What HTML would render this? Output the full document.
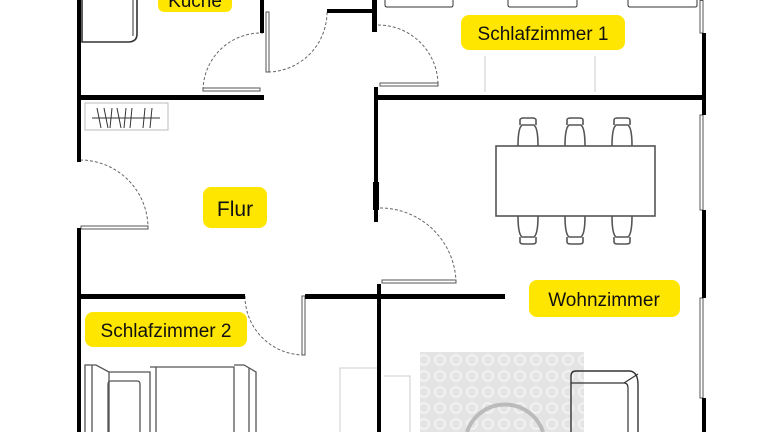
<!DOCTYPE html>
<html><head><meta charset="utf-8"><style>
html,body{margin:0;padding:0;background:#fff;width:768px;height:432px;overflow:hidden;}
svg{display:block;overflow:hidden;}
text{font-family:"Liberation Sans",sans-serif;fill:#111;}
</style></head><body>
<svg width="768" height="432" viewBox="0 0 768 432" xmlns="http://www.w3.org/2000/svg">
<defs>
<pattern id="rug" width="16" height="16" patternUnits="userSpaceOnUse">
<rect width="16" height="16" fill="#e4e4e4"/>
<circle cx="8" cy="8" r="5" fill="none" stroke="#f4f4f4" stroke-width="1.6"/>
</pattern>
</defs>
<g fill="none" stroke="#333" stroke-width="1.6">
<path d="M82 0 V42 H128 Q137 42 137 34 V0"/>
<path d="M133 0 V36" stroke-width="1"/>
<rect x="85" y="103" width="83" height="27" stroke="#bbb" stroke-width="1"/>
<path d="M92 118 H160 M97 108 L101 128 M104 108 L108 128 M112 108 L110 128 M117 108 L121 128 M126 108 L124 128 M132 108 L130 128 M145 108 L143 128 M152 108 L150 128" stroke-width="1"/>
<path d="M385 0 V5 Q385 7 387 7 H451 Q453 7 453 5 V0" stroke-width="1"/>
<path d="M508 0 V5 Q508 7 510 7 H575 Q577 7 577 5 V0" stroke-width="1"/>
<path d="M628 0 V5 Q628 7 630 7 H695 Q697 7 697 5 V0" stroke-width="1"/>
<path d="M485 56 V92 M595 56 V92" stroke="#ccc" stroke-width="1"/>
<rect x="496" y="146" width="159" height="70" stroke="#555"/>
<g stroke="#555">
<path d="M518 146 Q518 128 522 125 H534 Q538 128 538 146 M520 125 V120 Q520 118 524 118 H532 Q536 118 536 120 V125"/>
<path d="M565 146 Q565 128 569 125 H581 Q585 128 585 146 M567 125 V120 Q567 118 571 118 H579 Q583 118 583 120 V125"/>
<path d="M612 146 Q612 128 616 125 H628 Q632 128 632 146 M614 125 V120 Q614 118 618 118 H626 Q630 118 630 120 V125"/>
<path d="M518 216 Q518 234 522 237 H534 Q538 234 538 216 M520 237 V242 Q520 244 524 244 H532 Q536 244 536 242 V237"/>
<path d="M565 216 Q565 234 569 237 H581 Q585 234 585 216 M567 237 V242 Q567 244 571 244 H579 Q583 244 583 242 V237"/>
<path d="M612 216 Q612 234 616 237 H628 Q632 234 632 216 M614 237 V242 Q614 244 618 244 H626 Q630 244 630 242 V237"/>
</g>
<rect x="420" y="352" width="164" height="80" fill="url(#rug)" stroke="none"/>
<path d="M467 432 A40 40 0 0 1 543 432" stroke="#bbb" stroke-width="4"/>
<path d="M571 432 V376 Q571 371 576 371 H630 Q638 372 638 385 V432" stroke-width="1.4"/>
<path d="M571 383 H624 Q628 383 628 388 V432 M624 383 L638 374" stroke-width="1.2"/>
<path d="M340 432 V368 H378 M384 376 H410 V432" stroke="#ccc" stroke-width="1"/>
<g stroke="#555" stroke-width="1.3">
<path d="M85 432 V365 H96 L109 372 V432 M92 365 V432"/>
<path d="M109 372 H150 V432 M150 367 H234 V432 M156 367 V432"/>
<path d="M234 365 H244 L256 372 V432 M249 368 V432"/>
<path d="M108 432 V384 Q108 381 111 381 H137 Q140 381 140 384 V432"/>
</g>
</g>
<g fill="none" stroke="#666" stroke-width="1" stroke-dasharray="3,2">
<path d="M268 72 A60 60 0 0 0 327 12"/>
<path d="M203 90 A58 58 0 0 1 263 33"/>
<path d="M378 25 A60 60 0 0 1 438 85"/>
<path d="M80 160 A68 68 0 0 1 148 228"/>
<path d="M380 208 A76 76 0 0 1 456 282"/>
<path d="M245 296 A59 59 0 0 0 304 355"/>
</g>
<g fill="none" stroke="#555" stroke-width="1">
<rect x="266" y="12" width="3" height="60"/>
<rect x="203" y="88" width="57" height="3"/>
<rect x="380" y="83" width="58" height="3"/>
<rect x="81" y="226" width="67" height="3"/>
<rect x="382" y="280" width="74" height="3"/>
<rect x="302" y="296" width="3" height="59"/>
<rect x="700" y="0.5" width="3" height="32.5"/>
<rect x="700" y="115" width="3" height="95"/>
<rect x="700" y="298" width="3" height="100"/>
</g>
<g fill="#000">
<rect x="77" y="0" width="4" height="162"/>
<rect x="77" y="228" width="4" height="204"/>
<rect x="77" y="95" width="187" height="5"/>
<rect x="260" y="0" width="4" height="33"/>
<rect x="327" y="9" width="50" height="4"/>
<rect x="372" y="0" width="5" height="32"/>
<rect x="374" y="87" width="4" height="135"/>
<rect x="373" y="182" width="6" height="28"/>
<rect x="374" y="95" width="331" height="5"/>
<rect x="702" y="33" width="4" height="82"/>
<rect x="702" y="210" width="4" height="88"/>
<rect x="702" y="398" width="4" height="34"/>
<rect x="77" y="294" width="168" height="5"/>
<rect x="305" y="294" width="200" height="5"/>
<rect x="377" y="284" width="4" height="148"/>
</g>
<g fill="#ffe600">
<path d="M158 0 H232 V5 Q232 12 225 12 H165 Q158 12 158 5 Z"/>
<rect x="461" y="15" width="164" height="35" rx="8"/>
<rect x="203" y="187" width="64" height="41" rx="8"/>
<rect x="85" y="312" width="162" height="35" rx="8"/>
<rect x="529" y="280" width="151" height="37" rx="8"/>
</g>
<text x="195" y="7" font-size="19" text-anchor="middle">Küche</text>
<text x="543" y="40" font-size="19" text-anchor="middle">Schlafzimmer 1</text>
<text x="235" y="216" font-size="21" text-anchor="middle">Flur</text>
<text x="166" y="337" font-size="19" text-anchor="middle">Schlafzimmer 2</text>
<text x="604" y="306" font-size="19" text-anchor="middle">Wohnzimmer</text>
</svg>
</body></html>
